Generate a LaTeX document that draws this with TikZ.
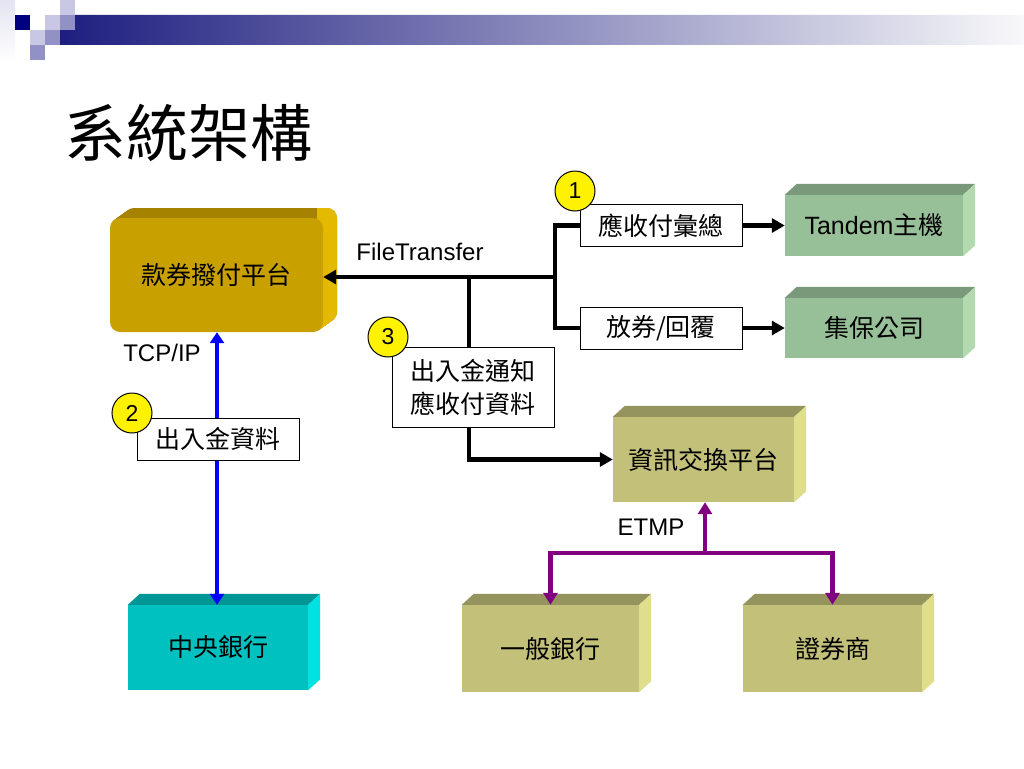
\documentclass[tikz,border=0pt]{standalone}
\usepackage{fontspec}
\setmainfont{Liberation Sans}
\newfontfamily\cjk{Noto Sans CJK TC}
\newfontfamily\latn{Liberation Sans}
\usetikzlibrary{arrows.meta,calc}
\definecolor{navyA}{RGB}{0,0,128}
\definecolor{barL}{RGB}{30,30,128}
\definecolor{barR}{RGB}{248,248,250}
\definecolor{lavA}{RGB}{200,200,228}
\definecolor{lavB}{RGB}{145,145,198}
\definecolor{lavC}{RGB}{228,228,242}
\definecolor{goldF}{RGB}{200,160,0}
\definecolor{goldT}{RGB}{165,130,0}
\definecolor{goldS}{RGB}{228,186,0}
\definecolor{grnF}{RGB}{152,192,152}
\definecolor{grnT}{RGB}{122,152,122}
\definecolor{grnS}{RGB}{178,218,174}
\definecolor{olvF}{RGB}{195,192,122}
\definecolor{olvT}{RGB}{150,148,94}
\definecolor{olvS}{RGB}{222,222,140}
\definecolor{cynF}{RGB}{0,192,192}
\definecolor{cynT}{RGB}{0,150,150}
\definecolor{cynS}{RGB}{0,226,226}
\definecolor{purp}{RGB}{128,0,128}
\newcommand\lblfont{\fontsize{25}{33}\selectfont\cjk}
\newcommand\boxthreed[7]{%
  \node[frontbox, fill=#5F, minimum width=#3, minimum height=#4] (#1) at (#2) {#7};
  \fill[#5T] (#1.north west) -- ++(12,-11) -- ([shift={(12,-11)}]#1.north east) -- (#1.north east) -- cycle;
  \fill[#5S] (#1.north east) -- ++(12,-11) -- ([shift={(12,-11)}]#1.south east) -- (#1.south east) -- cycle;
}
\begin{document}
\begin{tikzpicture}[x=1pt,y=-1pt,
  frontbox/.style={inner sep=0pt, font=\lblfont, text=black},
  lab/.style={draw=black, line width=1pt, fill=white, font=\lblfont, inner sep=0pt,
              minimum width=162pt, minimum height=42pt},
  num/.style={circle, draw=black, line width=1pt, fill=yellow, minimum size=40pt,
              inner sep=0pt, font=\fontsize{23}{23}\selectfont},
  plain/.style={font=\fontsize{24}{24}\selectfont, inner sep=0pt},
  blk/.style={line width=4.5pt, black},
  blkarr/.style={blk, -{Triangle[length=13pt,width=14pt]}},
  blu/.style={line width=4.5pt, blue},
  pur/.style={line width=4.5pt, purp, -{Triangle[length=12pt,width=14pt]}}
]
\useasboundingbox (0,0) rectangle (1024,768);
\fill[white] (0,0) rectangle (1024,768);

% decoration
\shade[top color=lavC, bottom color=white] (0,0) rectangle (15,62);
\shade[left color=barL, right color=barR]
  (75,15) -- (1024,15) -- (1024,45) -- (60,45) -- (60,30) -- (75,30) -- cycle;
\fill[navyA] (15,15) rectangle (30,30);
\fill[lavA] (45,15) rectangle (60,30);
\fill[lavB] (60,15) rectangle (75,30);
\fill[lavA] (60,0) rectangle (75,15);
\fill[lavA] (30,30) rectangle (45,45);
\fill[lavB] (45,30) rectangle (60,45);
\fill[lavB] (30,45) rectangle (45,60);

% title
\node[font=\fontsize{62}{62}\selectfont\cjk, anchor=west, inner sep=0pt] (title) at (64,133) {系統架構};

% main gold box
\foreach \i in {1,...,14}
  \fill[goldT, rounded corners=10pt] ($(110,218)+(\i,-\i*10/14)$) rectangle ++(213,114);
\begin{scope}
  \clip (317,150) rectangle (350,345);
  \foreach \i in {1,...,14}
    \fill[goldS, rounded corners=10pt] ($(110,218)+(\i,-\i*10/14)$) rectangle ++(213,114);
\end{scope}
\node[frontbox, fill=goldF, rounded corners=10pt, minimum width=213pt, minimum height=114pt]
  (main) at (216.5,275) {款券撥付平台};

% 3D boxes
\boxthreed{tandem}{874,225.5}{178pt}{61pt}{grn}{}{{\latn Tandem}主機}
\boxthreed{jibao}{874,328}{178pt}{60pt}{grn}{}{集保公司}
\boxthreed{info}{703.5,459.5}{181pt}{85pt}{olv}{}{資訊交換平台}
\boxthreed{cb}{218,647.5}{180pt}{85pt}{cyn}{}{中央銀行}
\boxthreed{bank}{550.5,648.5}{177pt}{87pt}{olv}{}{一般銀行}
\boxthreed{sec}{832.5,648.5}{179pt}{87pt}{olv}{}{證券商}

% label boxes
\node[lab] (r1) at (661,225.5) {應收付彙總};
\node[lab] (r2) at (661,328) {放券/回覆};
\node[lab] (lb2) at (218,439) {出入金資料};
\node[lab, minimum height=80pt, align=center] (b3) at (473,387) {出入金通知\\應收付資料};

% junctions
\coordinate (j1) at (555,277);
\coordinate (j2) at (469,277);
\coordinate (j3) at (705,553);

% black connectors
\draw[blk] (r1.west) -| (j1) |- (r2.west);
\draw[blkarr] (j1) -- (j1 -| main.east);
\draw[blk] (j2) -- (j2 |- b3.north);
\draw[blkarr] (j2 |- b3.south) |- (info.west);
\draw[blkarr] (r1.east) -- (tandem.west);
\draw[blkarr] (r2.east) -- (jibao.west);

% blue connector
\draw[blu, -{Triangle[length=11pt,width=14pt]}] (lb2.north -| 217,0) -- (217,0 |- main.south);
\draw[blu, -{Triangle[length=11pt,width=14pt]}] (lb2.south -| 217,0) -- (217,0 |- cb.north);

% purple connectors
\draw[pur] (j3) -- (j3 |- info.south);
\draw[pur] (j3) -| (bank.north);
\draw[pur] (j3) -| (sec.north);

% numbered circles
\node[num] (n1) at (575,191) {1};
\node[num] (n2) at (132,413) {2};
\node[num] (n3) at (388,337) {3};

% plain labels
\node[plain] (ft) at (420,252) {FileTransfer};
\node[plain] (tcp) at (162,353) {TCP/IP};
\node[plain] (etmp) at (651,527) {ETMP};
\end{tikzpicture}
\end{document}
